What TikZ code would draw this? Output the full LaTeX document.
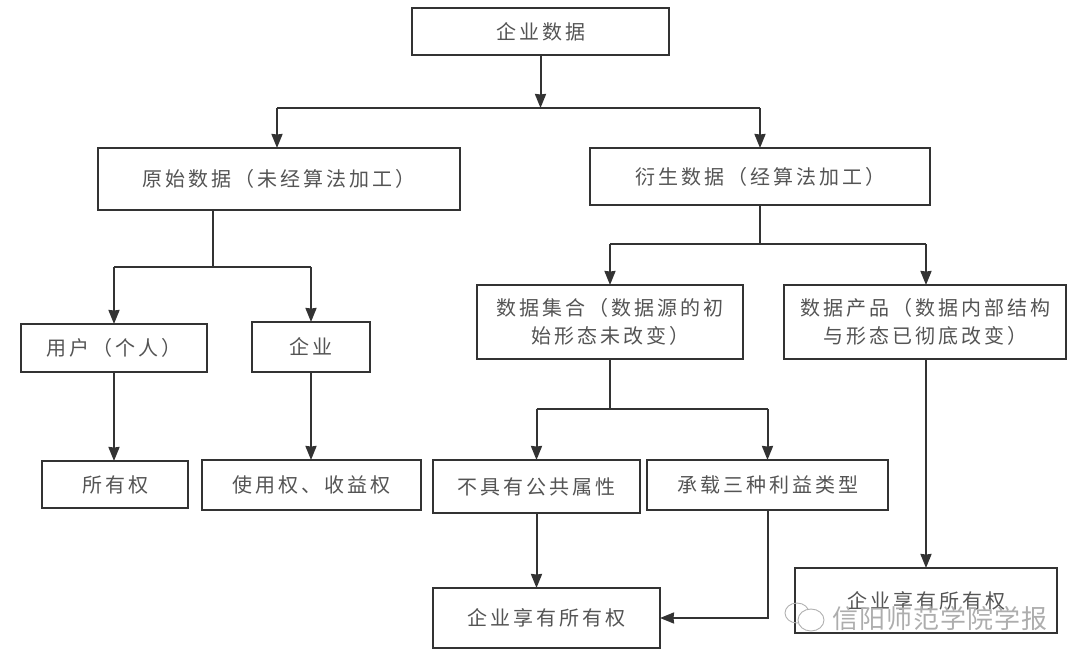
\documentclass[tikz,border=0pt]{standalone}
\usepackage{fontspec}
\setmainfont[LetterSpace=15]{Noto Sans CJK SC}
\newfontfamily\marktext[LetterSpace=4]{Noto Sans CJK SC}
\usetikzlibrary{positioning, arrows.meta}
\definecolor{boxline}{gray}{0.2}
\definecolor{boxtext}{gray}{0.33}

\begin{document}
\begin{tikzpicture}
        [
            databox/.style={rectangle, draw=boxline, line width=2pt, text=boxtext,
                            font=\fontsize{20}{27.5}\selectfont, align=center,
                            inner sep=0pt, outer sep=0pt, minimum width=#1},
            link/.style={draw=boxline, line width=2pt},
            arrow/.style={link, -{Stealth[length=14pt, width=11pt, inset=0.5pt]}},
            wmline/.style={draw=black!30, line width=0.9pt}
        ]
        \useasboundingbox (0,0) rectangle (1080pt,-665pt);
        \node (root) [databox=257pt, minimum height=47pt] at (540.5pt,-31.5pt) {企业数据};
        \node (raw) [databox=362pt, minimum height=62pt, below=93pt of root, xshift=-261.5pt] {原始数据（未经算法加工）};
        \node (derived) [databox=340pt, minimum height=57pt, below=93pt of root, xshift=219.5pt] {衍生数据（经算法加工）};
        \node (user) [databox=186pt, minimum height=48pt, below=114pt of raw, xshift=-165pt] {用户（个人）};
        \node (firm) [databox=118pt, minimum height=50pt, below=112pt of raw, xshift=32pt] {企业};
        \node (owner) [databox=146pt, minimum height=47pt, below=89pt of user, xshift=1pt] {所有权};
        \node (rights) [databox=219pt, minimum height=50pt, below=88pt of firm, xshift=0.5pt] {使用权、收益权};
        \node (dataset) [databox=266pt, minimum height=74pt, below=80pt of derived, xshift=-150pt] {数据集合（数据源的初\\始形态未改变）};
        \node (product) [databox=282pt, minimum height=74pt, below=80pt of derived, xshift=165pt] {数据产品（数据内部结构\\与形态已彻底改变）};
        \node (nopublic) [databox=207pt, minimum height=53pt, below=101pt of dataset, xshift=-73.5pt] {不具有公共属性};
        \node (interest) [databox=241pt, minimum height=50pt, below=101pt of dataset, xshift=157.5pt] {承载三种利益类型};
        \node (ownleft) [databox=227pt, minimum height=60pt, below=75pt of nopublic, xshift=10pt] {企业享有所有权};
        \node (ownright) [databox=262pt, minimum height=65pt, below=209pt of product, xshift=1pt] {企业享有所有权};
        % junctions
        \coordinate (rootj) at ([yshift=-53pt]root.south);
        \coordinate (rawj) at ([xshift=-2pt]raw |- rootj);
        \coordinate (derivedj) at (derived |- rootj);
        \coordinate (rawstem) at ([xshift=-66pt]raw.south);
        \coordinate (rawbar) at ([yshift=-57pt]rawstem);
        \coordinate (userj) at (user |- rawbar);
        \coordinate (firmj) at (firm |- rawbar);
        \coordinate (derivedbar) at ([yshift=-39pt]derived.south);
        \coordinate (datasetj) at (dataset |- derivedbar);
        \coordinate (productj) at ([xshift=1pt]product |- derivedbar);
        \coordinate (datasetbar) at ([yshift=-50pt]dataset.south);
        \coordinate (nopublicj) at (nopublic |- datasetbar);
        \coordinate (interestj) at (interest |- datasetbar);
        \draw [arrow] (root) -- (rootj);
        \draw [link] (rawj) -- (derivedj);
        \draw [link] (rawstem) -- (rawbar);
        \draw [link] (userj) -- (firmj);
        \draw [link] (derived) -- (derivedbar);
        \draw [link] (datasetj) -- (productj);
        \draw [link] (dataset) -- (datasetbar);
        \draw [link] (nopublicj) -- (interestj);
        \foreach \i/\j in {rawj/raw,derivedj/derived,userj/user,firmj/firm,
                           datasetj/dataset,productj/product,nopublicj/nopublic,interestj/interest}
            \draw [arrow] (\i) -- (\i |- \j.north);
        \foreach \i/\j in {user/owner,firm/rights,nopublic/ownleft}
            \draw [arrow] (\i) -- (\i |- \j.north);
        \draw [arrow] (productj |- product.south) -- (productj |- ownright.north);
        \draw [arrow] (interest) |- (ownleft);
        % watermark
        \draw [wmline] (797pt,-613pt) ellipse (12pt and 10pt);
        \draw [wmline, fill=white] (811pt,-620pt) ellipse (13pt and 11pt);
        \node (journal) [text=black!32, font=\fontsize{26}{26}\selectfont, inner sep=0pt] at (940pt,-619pt) {\marktext 信阳师范学院学报};
    \end{tikzpicture}
\end{document}
